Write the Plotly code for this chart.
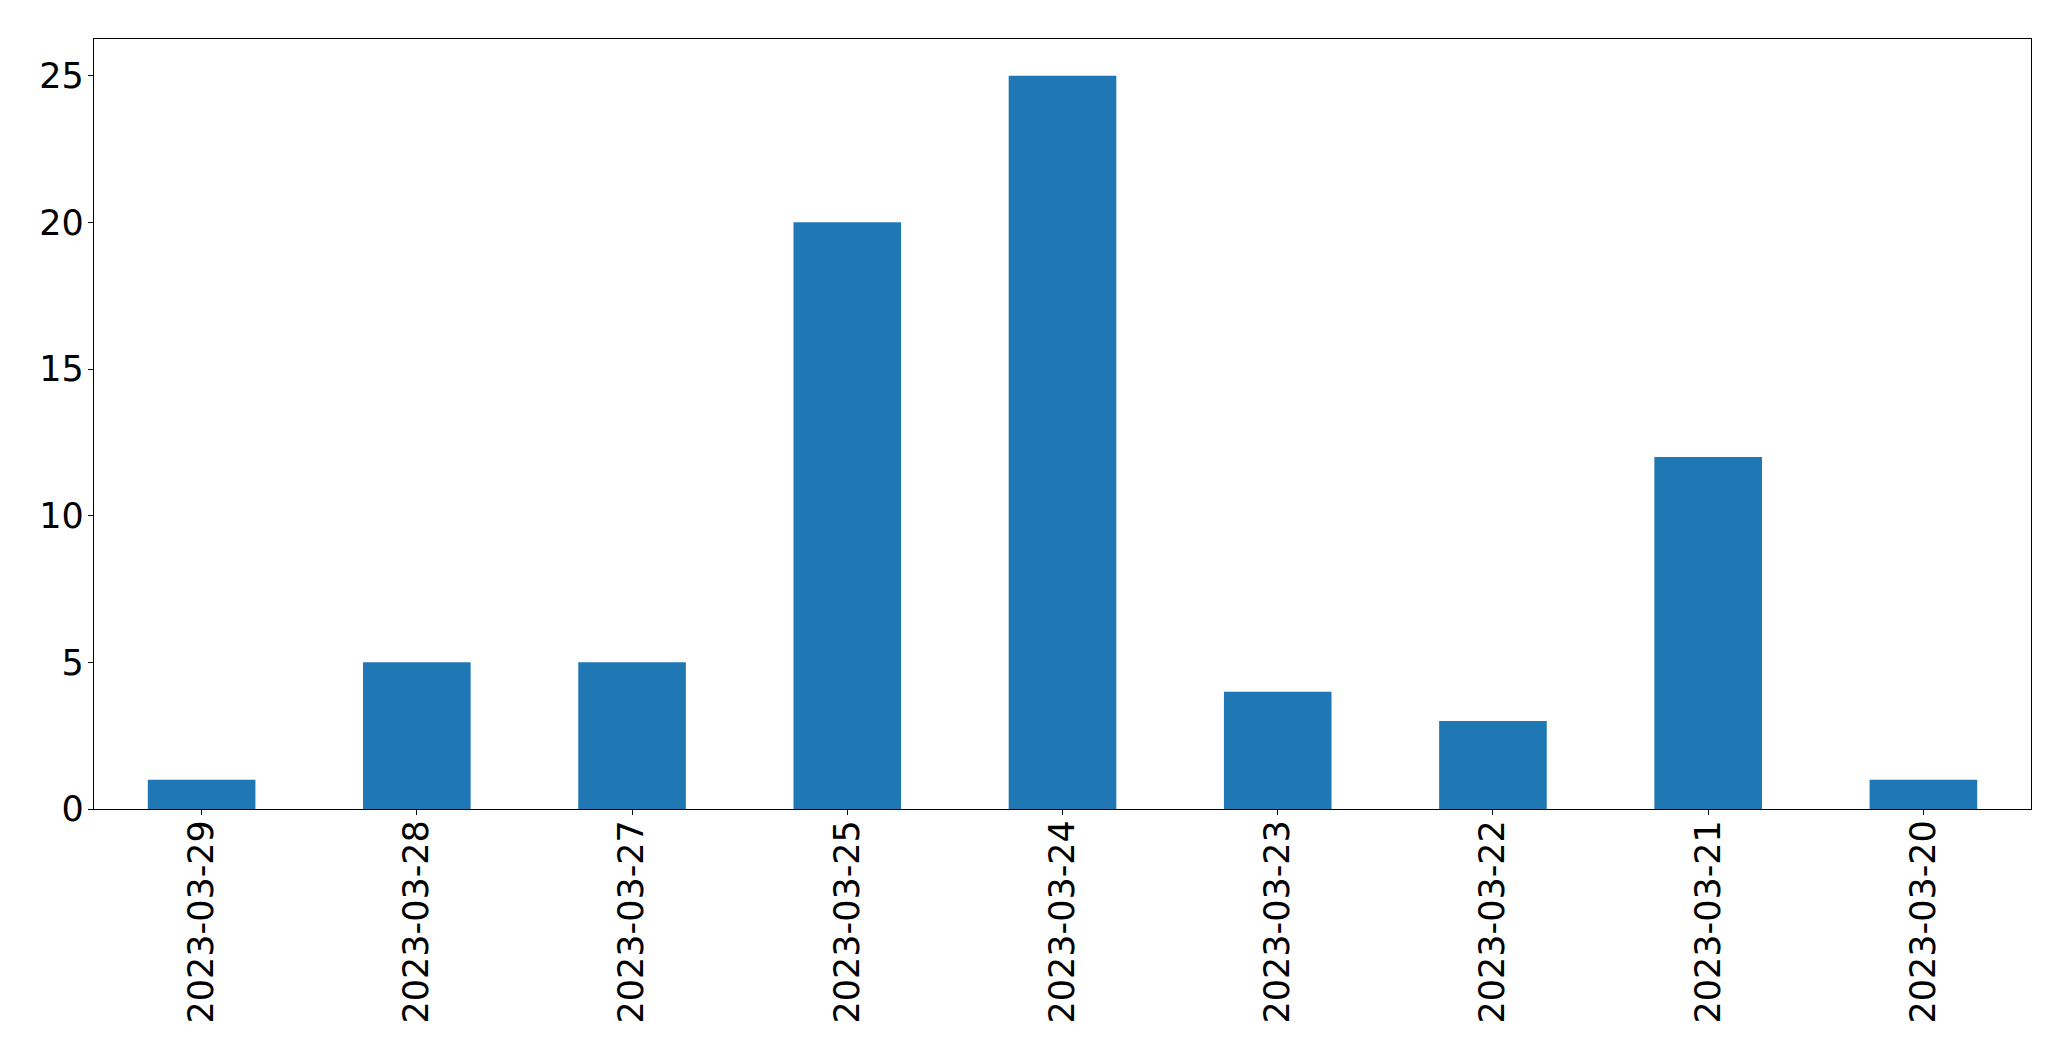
import plotly.graph_objects as go

dates = ["2023-03-29", "2023-03-28", "2023-03-27", "2023-03-25", "2023-03-24",
         "2023-03-23", "2023-03-22", "2023-03-21", "2023-03-20"]
counts = [1, 5, 5, 20, 25, 4, 3, 12, 1]
y_ticks = [0, 5, 10, 15, 20, 25]

fig = go.Figure(go.Bar(x=dates, y=counts, width=0.5, marker=dict(color="#1f77b4", line=dict(width=0))))

axis_common = dict(
    showline=True, linecolor="black", linewidth=1.3, mirror=True,
    ticks="outside", ticklen=5, tickwidth=1.3, tickcolor="black",
    showgrid=False, zeroline=False, automargin=False,
    tickfont=dict(family="DejaVu Sans", size=35, color="black"),
)

# page body has an 8px margin, so the figure is sized/offset to compensate
fig.update_layout(
    width=2063, height=1053,
    margin=dict(l=86, r=40, t=31, b=252),
    paper_bgcolor="white", plot_bgcolor="white",
    showlegend=False,
    xaxis=dict(type="category", range=[-0.5, 8.5], tickangle=-90,
               ticklabelstandoff=-9, **axis_common),
    yaxis=dict(range=[0, 26.25], tickvals=y_ticks, ticklabelstandoff=-3, **axis_common),
)

fig.write_html("out.html")
